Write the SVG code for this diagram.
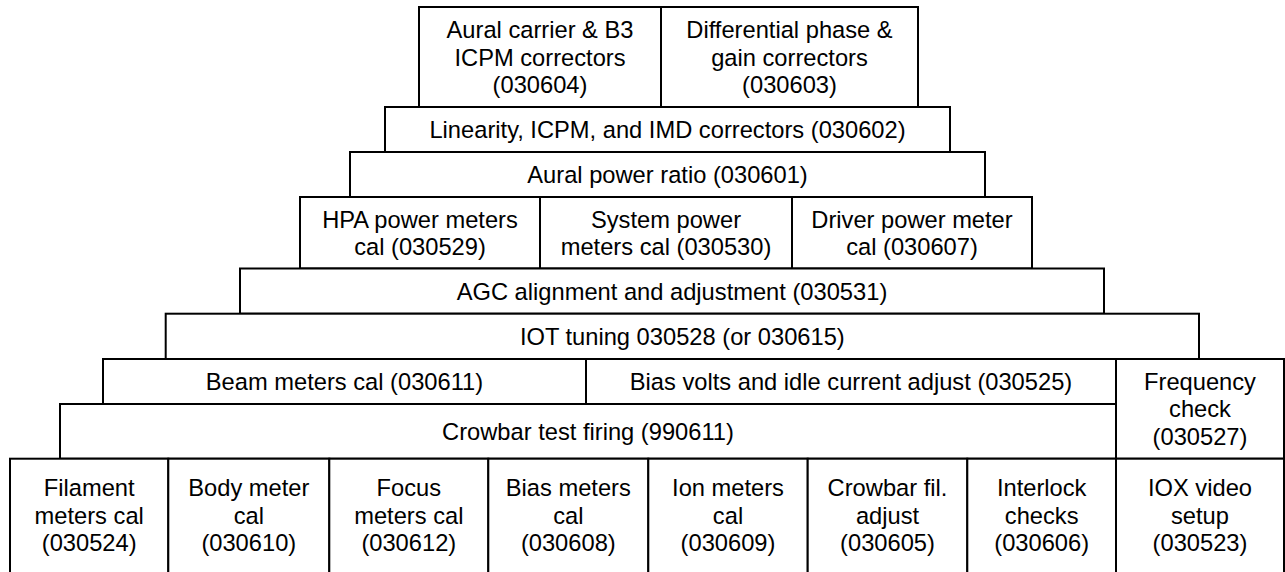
<svg xmlns="http://www.w3.org/2000/svg" width="1285" height="572" viewBox="0 0 1285 572">
<style>
rect{fill:#fff;stroke:#000;stroke-width:2}
text{font-family:"Liberation Sans",Arial,sans-serif;font-size:23.7px;fill:#000;text-anchor:middle}
</style>
<rect x="0" y="0" width="1285" height="572" style="stroke:none"/>
<g id="n030604"><rect x="419" y="7" width="242" height="100"/><text x="540" y="38.2">Aural carrier &amp; B3</text><text x="540" y="65.5">ICPM correctors</text><text x="540" y="92.8">(030604)</text></g>
<g id="n030603"><rect x="661" y="7" width="257" height="100"/><text x="789.5" y="38.2">Differential phase &amp;</text><text x="789.5" y="65.5">gain correctors</text><text x="789.5" y="92.8">(030603)</text></g>
<g id="n030602"><rect x="385" y="107" width="565" height="45"/><text x="667.5" y="137.9">Linearity, ICPM, and IMD correctors (030602)</text></g>
<g id="n030601"><rect x="350" y="152" width="635" height="45"/><text x="667.5" y="182.9">Aural power ratio (030601)</text></g>
<g id="n030529"><rect x="300" y="197" width="240" height="71.5"/><text x="420" y="227.5">HPA power meters</text><text x="420" y="254.8">cal (030529)</text></g>
<g id="n030530"><rect x="540" y="197" width="252" height="71.5"/><text x="666" y="227.5">System power</text><text x="666" y="254.8">meters cal (030530)</text></g>
<g id="n030607"><rect x="792" y="197" width="240" height="71.5"/><text x="912" y="227.5">Driver power meter</text><text x="912" y="254.8">cal (030607)</text></g>
<g id="n030531"><rect x="240" y="268.5" width="864" height="45.2"/><text x="672" y="299.5">AGC alignment and adjustment (030531)</text></g>
<g id="n030528"><rect x="165.7" y="313.7" width="1033.3" height="45.3"/><text x="682.3" y="344.8">IOT tuning 030528 (or 030615)</text></g>
<g id="n030611"><rect x="103" y="359" width="483" height="45"/><text x="344.5" y="389.9">Beam meters cal (030611)</text></g>
<g id="n030525"><rect x="586" y="359" width="530" height="45"/><text x="851" y="389.9">Bias volts and idle current adjust (030525)</text></g>
<g id="n990611"><rect x="60" y="404" width="1056" height="54.7"/><text x="588" y="439.8">Crowbar test firing (990611)</text></g>
<g id="n030527"><rect x="1116" y="359" width="168" height="99.7"/><text x="1200" y="390">Frequency</text><text x="1200" y="417.3">check</text><text x="1200" y="444.6">(030527)</text></g>
<g id="n030524"><rect x="10" y="458.7" width="158.3" height="130"/><text x="89.2" y="496.4">Filament</text><text x="89.2" y="523.7">meters cal</text><text x="89.2" y="551">(030524)</text></g>
<g id="n030610"><rect x="168.3" y="458.7" width="161" height="130"/><text x="248.8" y="496.4">Body meter</text><text x="248.8" y="523.7">cal</text><text x="248.8" y="551">(030610)</text></g>
<g id="n030612"><rect x="329.3" y="458.7" width="159" height="130"/><text x="408.8" y="496.4">Focus</text><text x="408.8" y="523.7">meters cal</text><text x="408.8" y="551">(030612)</text></g>
<g id="n030608"><rect x="488.3" y="458.7" width="160" height="130"/><text x="568.3" y="496.4">Bias meters</text><text x="568.3" y="523.7">cal</text><text x="568.3" y="551">(030608)</text></g>
<g id="n030609"><rect x="648.3" y="458.7" width="159.4" height="130"/><text x="728" y="496.4">Ion meters</text><text x="728" y="523.7">cal</text><text x="728" y="551">(030609)</text></g>
<g id="n030605"><rect x="807.7" y="458.7" width="159.6" height="130"/><text x="887.5" y="496.4">Crowbar fil.</text><text x="887.5" y="523.7">adjust</text><text x="887.5" y="551">(030605)</text></g>
<g id="n030606"><rect x="967.3" y="458.7" width="148.7" height="130"/><text x="1041.7" y="496.4">Interlock</text><text x="1041.7" y="523.7">checks</text><text x="1041.7" y="551">(030606)</text></g>
<g id="n030523"><rect x="1116" y="458.7" width="168" height="130"/><text x="1200" y="496.4">IOX video</text><text x="1200" y="523.7">setup</text><text x="1200" y="551">(030523)</text></g>
</svg>
